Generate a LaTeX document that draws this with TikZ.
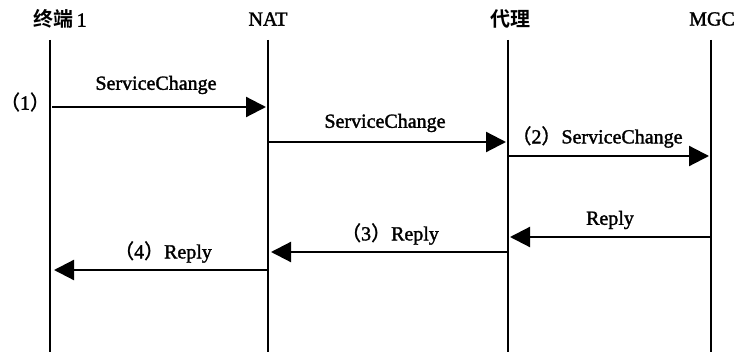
\documentclass[tikz,border=0pt]{standalone}
\usepackage{fontspec}
\setmainfont{Liberation Serif}[FakeBold=1.6]
\newfontfamily\cjk{Noto Sans CJK SC}[FakeBold=1.2]
\newfontfamily\cjkhead{Noto Sans CJK SC Bold}
\usetikzlibrary{arrows.meta}
\begin{document}
\begin{tikzpicture}[x=1pt,y=-1pt,
  lifeline/.style={line width=2pt},
  msg/.style={line width=2.2pt,-{Triangle[length=20pt,width=20pt]}},
  head/.style={font=\fontsize{20}{20}\selectfont,inner sep=0pt},
  lbl/.style={font=\fontsize{20}{20}\selectfont,inner sep=0pt}]
\useasboundingbox (0,0) rectangle (735,352);
% participants
\node[head] (t) at (60,19) {{\cjkhead 终端}\,1};
\node[head] (n) at (268,19) {NAT};
\node[head] (p) at (510,19) {\cjkhead 代理};
\node[head,anchor=east] (m) at (735,19) {MGC};
% lifelines
\coordinate (tt) at (50,40);  \coordinate (tb) at (50,352);
\coordinate (nt) at (268,40); \coordinate (nb) at (268,352);
\coordinate (pt) at (508,40); \coordinate (pb) at (508,352);
\coordinate (mt) at (711,40); \coordinate (mb) at (711,352);
\foreach \l in {t,n,p,m} \draw[lifeline] (\l t) -- (\l b);
% message end points
\coordinate (a1s) at (52,107);  \coordinate (a1e) at (266,107);
\coordinate (a2s) at (269,142); \coordinate (a2e) at (506,142);
\coordinate (a3s) at (509,156); \coordinate (a3e) at (709,156);
\coordinate (a4s) at (710,237); \coordinate (a4e) at (510,237);
\coordinate (a5s) at (507,252); \coordinate (a5e) at (271,252);
\coordinate (a6s) at (267,270); \coordinate (a6e) at (54,270);
\draw[msg] (a1s) -- (a1e);
\draw[msg] (a2s) -- (a2e);
\draw[msg] (a3s) -- (a3e);
\draw[msg] (a4s) -- (a4e);
\draw[msg] (a5s) -- (a5e);
\draw[msg] (a6s) -- (a6e);
% labels
\node[lbl] (l0) at (25,102) {{\cjk （}1{\cjk ）}};
\node[lbl] (l1) at (156,85) {ServiceChange};
\node[lbl] (l2) at (385,123) {ServiceChange};
\node[lbl] (l3) at (597,137) {{\cjk （}2{\cjk ）}ServiceChange};
\node[lbl] (l4) at (610,220) {Reply};
\node[lbl] (l5) at (390,234) {{\cjk （}3{\cjk ）}Reply};
\node[lbl] (l6) at (163,252) {{\cjk （}4{\cjk ）}Reply};
\end{tikzpicture}
\end{document}
